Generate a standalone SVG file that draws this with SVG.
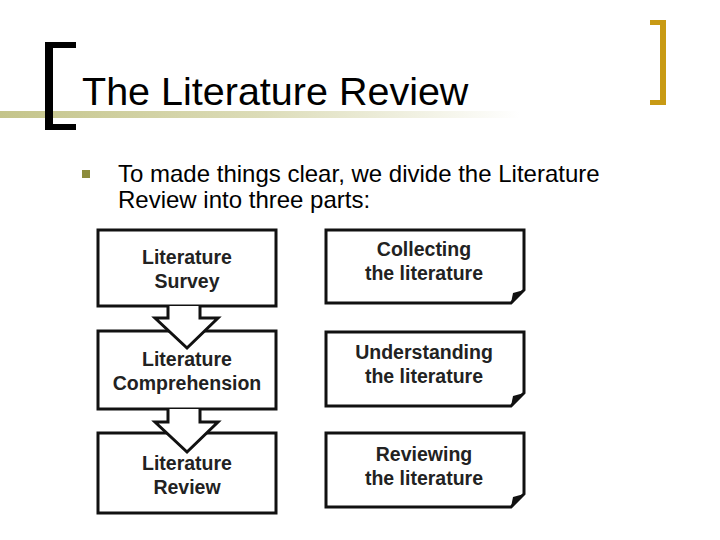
<svg xmlns="http://www.w3.org/2000/svg" width="720" height="540" viewBox="0 0 720 540">
<defs>
<linearGradient id="g" x1="0" x2="1" y1="0" y2="0">
<stop offset="0" stop-color="#c4c48a"/><stop offset="0.5" stop-color="#dcdcb8"/><stop offset="1" stop-color="#ffffff"/>
</linearGradient>
<style>
.b{fill:#fff;stroke:#111;stroke-width:3}
.t{font-family:"Liberation Sans",Arial,sans-serif;font-weight:bold;font-size:19.5px;fill:#222;text-anchor:middle}
</style>
</defs>
<rect width="720" height="540" fill="#fff"/>
<rect x="0" y="111" width="520" height="7" fill="url(#g)"/>
<path d="M76,42 H45 V130 H76 V124 H53 V48 H76 Z" fill="#000"/>
<path d="M650,20 H666 V105 H650 V100 H660 V25 H650 Z" fill="#c89a14"/>
<text x="82" y="105" font-family="'Liberation Sans',Arial,sans-serif" font-size="39.5" fill="#000">The Literature Review</text>
<rect x="82" y="170" width="8" height="8" fill="#8c8c3c"/>
<text font-family="'Liberation Sans',Arial,sans-serif" font-size="24" fill="#000"><tspan x="118" y="182">To made things clear, we divide the Literature</tspan><tspan x="118" y="208">Review into three parts:</tspan></text>
<g id="n1"><rect class="b" x="98" y="230" width="178" height="76"/><text class="t" x="187" y="264">Literature</text><text class="t" x="187" y="288">Survey</text></g>
<g id="n2"><rect class="b" x="98" y="331" width="178" height="78"/><text class="t" x="187" y="366">Literature</text><text class="t" x="187" y="390">Comprehension</text></g>
<g id="n3"><rect class="b" x="98" y="433" width="178" height="80"/><text class="t" x="187" y="470">Literature</text><text class="t" x="187" y="494">Review</text></g>
<g id="connectors">
<path class="b" d="M168,306 V318 H155 L187,348 L218,318 H200 V306"/>
<path class="b" d="M168,409 V422 H155 L187,452 L218,422 H200 V409"/>
</g>
<g id="r1"><path class="b" d="M326,230 H524 V290 L511,303 H326 Z"/><path d="M511,303 L513,293 L524,290 Z" fill="#111"/><text class="t" x="424" y="256">Collecting</text><text class="t" x="424" y="280">the literature</text></g>
<g id="r2"><path class="b" d="M326,332 H524 V393 L511,406 H326 Z"/><path d="M511,406 L513,396 L524,393 Z" fill="#111"/><text class="t" x="424" y="359">Understanding</text><text class="t" x="424" y="383">the literature</text></g>
<g id="r3"><path class="b" d="M326,433 H524 V494 L511,507 H326 Z"/><path d="M511,507 L513,497 L524,494 Z" fill="#111"/><text class="t" x="424" y="461">Reviewing</text><text class="t" x="424" y="485">the literature</text></g>
</svg>
